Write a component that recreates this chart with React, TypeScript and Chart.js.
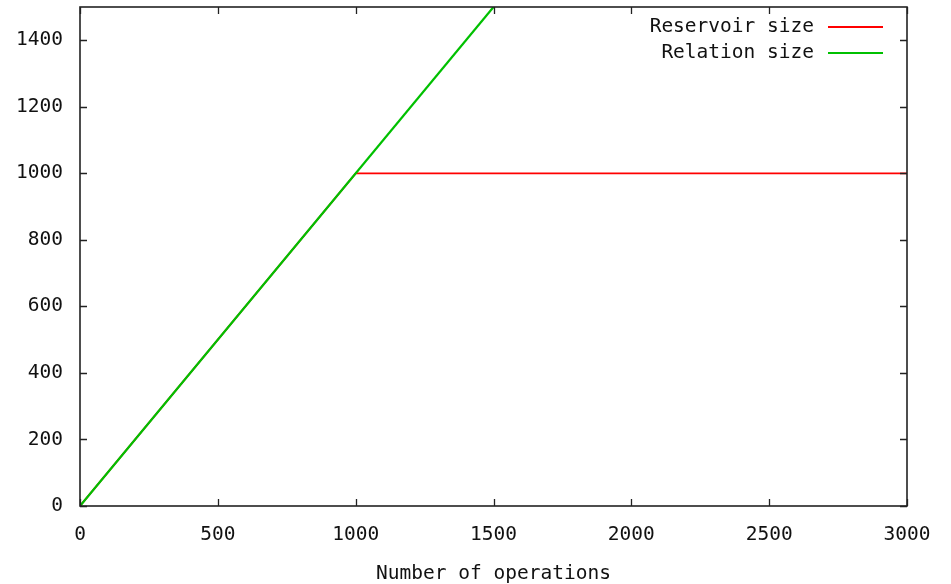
import React, { useEffect, useRef } from "react";
import { Chart, registerables } from "chart.js";

Chart.register(...registerables);

const reservoirOps = [0, 1000, 3000];
const reservoirSize = [0, 1000, 1000];
const relationOps = [0, 1500];
const relationSize = [0, 1500];
const xTickValues = [0, 500, 1000, 1500, 2000, 2500, 3000];
const yTickValues = [0, 200, 400, 600, 800, 1000, 1200, 1400];
const seriesNames = ["Reservoir size", "Relation size"];
const seriesColors = ["#ff0000", "#00c000"];
const xTitle = "Number of operations";

const FONT = "'DejaVu Sans Mono', 'Liberation Mono', monospace";
const FSIZE = 19.5;

const framePlugin = {
  id: "gnuframe",
  afterDatasetsDraw(chart: any) {
    const { ctx, chartArea: a, scales } = chart;
    const x = scales.x;
    const y = scales.y;
    ctx.save();
    ctx.strokeStyle = "#222";
    ctx.lineWidth = 1.6;
    ctx.strokeRect(a.left, a.top, a.right - a.left, a.bottom - a.top);
    ctx.lineWidth = 1.3;
    const tl = 7;
    ctx.beginPath();
    x.ticks.forEach((t: any) => {
      const px = Math.round(x.getPixelForValue(t.value)) + 0.5;
      ctx.moveTo(px, a.bottom);
      ctx.lineTo(px, a.bottom - tl);
      ctx.moveTo(px, a.top);
      ctx.lineTo(px, a.top + tl);
    });
    y.ticks.forEach((t: any) => {
      const py = Math.round(y.getPixelForValue(t.value)) + 0.5;
      ctx.moveTo(a.left, py);
      ctx.lineTo(a.left + tl, py);
      ctx.moveTo(a.right, py);
      ctx.lineTo(a.right - tl, py);
    });
    ctx.stroke();

    // legend (gnuplot style, inside top-right)
    ctx.font = `${FSIZE}px ${FONT}`;
    ctx.textAlign = "right";
    ctx.textBaseline = "middle";
    ctx.fillStyle = "#111";
    seriesNames.forEach((name, i) => {
      const cy = a.top + 20 + i * 26;
      ctx.fillText(name, a.right - 93, cy);
      ctx.strokeStyle = seriesColors[i];
      ctx.lineWidth = 1.8;
      ctx.beginPath();
      ctx.moveTo(a.right - 79, cy);
      ctx.lineTo(a.right - 24, cy);
      ctx.stroke();
    });
    ctx.restore();
  },
};

export default function App() {
  const ref = useRef<HTMLCanvasElement | null>(null);
  useEffect(() => {
    if (!ref.current) return;
    const chart = new Chart(ref.current, {
      type: "scatter",
      data: {
        datasets: [
          {
            label: seriesNames[1],
            data: relationOps.map((v, i) => ({ x: v, y: relationSize[i] })),
            borderColor: seriesColors[1],
            borderWidth: 2.2,
            showLine: true,
            pointRadius: 0,
            order: 0,
          },
          {
            label: seriesNames[0],
            data: reservoirOps.map((v, i) => ({ x: v, y: reservoirSize[i] })),
            borderColor: seriesColors[0],
            borderWidth: 1.8,
            showLine: true,
            pointRadius: 0,
            order: 1,
          },
        ],
      },
      options: {
        animation: false,
        responsive: true,
        maintainAspectRatio: false,
        layout: { padding: { left: 0, top: 7, right: 44, bottom: 0 } },
        plugins: { legend: { display: false }, tooltip: { enabled: false } },
        scales: {
          x: {
            type: "linear",
            min: 0,
            max: 3000,
            afterBuildTicks: (s: any) => {
              s.ticks = xTickValues.map((v) => ({ value: v }));
            },
            afterFit: (s: any) => {
              s.height = 78;
              s.paddingLeft = 0;
              s.paddingRight = 0;
              s.paddingTop = 0;
              s.paddingBottom = 0;
            },
            grid: { display: false, drawTicks: false },
            border: { display: false },
            ticks: {
              padding: 17,
              color: "#111",
              font: { family: FONT, size: FSIZE },
              maxRotation: 0,
              callback: (v: any) => String(v),
            },
            title: {
              display: true,
              text: xTitle,
              color: "#111",
              font: { family: FONT, size: FSIZE },
              padding: { top: 0, bottom: -2 },
            },
          },
          y: {
            type: "linear",
            min: 0,
            max: 1500,
            afterBuildTicks: (s: any) => {
              s.ticks = yTickValues.map((v) => ({ value: v }));
            },
            afterFit: (s: any) => {
              s.width = 80;
              s.paddingLeft = 0;
              s.paddingRight = 0;
              s.paddingTop = 0;
              s.paddingBottom = 0;
            },
            grid: { display: false, drawTicks: false },
            border: { display: false },
            ticks: {
              padding: 17,
              color: "#111",
              font: { family: FONT, size: FSIZE },
              callback: (v: any) => String(v),
            },
          },
        },
      },
      plugins: [framePlugin],
    });
    return () => chart.destroy();
  }, []);
  return (
    <div style={{ position: "fixed", left: 0, top: 0, width: 951, height: 584, background: "#fff" }}>
      <canvas ref={ref} />
    </div>
  );
}
